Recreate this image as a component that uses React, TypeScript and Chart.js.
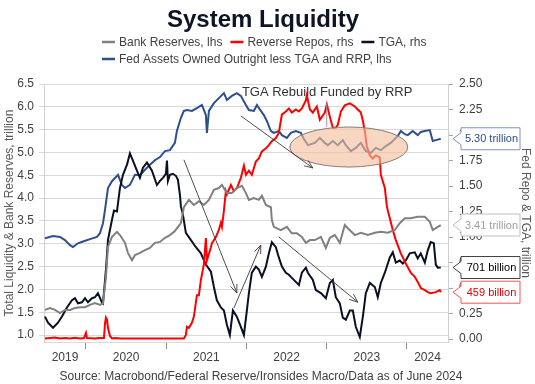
import React, { useEffect, useRef } from 'react';
import { Chart, registerables } from 'chart.js';

Chart.register(...registerables);

// ---------- Data (x = decimal year) ----------
const fedAssetsDates = [2019.489, 2019.589, 2019.676, 2019.738, 2019.801, 2019.838, 2019.900, 2019.963, 2020.050, 2020.137, 2020.174, 2020.212, 2020.237, 2020.274, 2020.324, 2020.361, 2020.399, 2020.448, 2020.486, 2020.548, 2020.610, 2020.672, 2020.735, 2020.797, 2020.859, 2020.922, 2020.984, 2021.046, 2021.108, 2021.133, 2021.183, 2021.220, 2021.258, 2021.320, 2021.382, 2021.445, 2021.494, 2021.507, 2021.532, 2021.594, 2021.656, 2021.719, 2021.756, 2021.818, 2021.880, 2021.930, 2021.993, 2022.030, 2022.092, 2022.130, 2022.179, 2022.217, 2022.254, 2022.304, 2022.341, 2022.403, 2022.441, 2022.503, 2022.553, 2022.615, 2022.677, 2022.715, 2022.765, 2022.852, 2022.914, 2022.976, 2023.014, 2023.076, 2023.138, 2023.200, 2023.238, 2023.300, 2023.362, 2023.425, 2023.487, 2023.549, 2023.611, 2023.674, 2023.736, 2023.798, 2023.861, 2023.885, 2023.923, 2023.973, 2024.010, 2024.072, 2024.134, 2024.172, 2024.222, 2024.284, 2024.321, 2024.359, 2024.421];
const fedAssetsValues = [3.12, 3.17, 3.15, 3.08, 2.97, 2.93, 3.01, 3.05, 3.10, 3.15, 3.23, 3.45, 3.74, 4.22, 4.37, 4.44, 4.51, 4.29, 4.22, 4.29, 4.51, 4.50, 4.62, 4.73, 4.83, 4.90, 5.03, 5.05, 5.21, 5.47, 5.76, 5.91, 5.93, 5.91, 5.97, 6.04, 5.82, 5.43, 5.91, 6.08, 6.19, 6.30, 6.15, 6.24, 6.30, 6.24, 6.04, 5.93, 5.91, 6.04, 5.91, 5.82, 5.69, 5.47, 5.43, 5.47, 5.38, 5.32, 5.43, 5.47, 5.43, 5.30, 5.16, 5.21, 5.32, 5.21, 5.16, 5.25, 5.16, 5.27, 5.16, 5.03, 5.10, 5.21, 5.03, 4.99, 5.10, 5.05, 5.14, 5.21, 5.32, 5.36, 5.47, 5.40, 5.38, 5.47, 5.38, 5.45, 5.47, 5.49, 5.25, 5.27, 5.30];

const reservesDates = [2019.489, 2019.552, 2019.614, 2019.676, 2019.738, 2019.801, 2019.863, 2019.925, 2019.988, 2020.050, 2020.112, 2020.174, 2020.212, 2020.249, 2020.274, 2020.324, 2020.386, 2020.423, 2020.486, 2020.523, 2020.573, 2020.610, 2020.672, 2020.735, 2020.797, 2020.859, 2020.922, 2020.984, 2021.046, 2021.108, 2021.183, 2021.220, 2021.283, 2021.345, 2021.407, 2021.469, 2021.532, 2021.594, 2021.656, 2021.694, 2021.756, 2021.818, 2021.880, 2021.943, 2021.993, 2022.030, 2022.092, 2022.154, 2022.192, 2022.242, 2022.304, 2022.316, 2022.341, 2022.428, 2022.503, 2022.565, 2022.628, 2022.690, 2022.740, 2022.790, 2022.852, 2022.927, 2022.989, 2023.039, 2023.101, 2023.163, 2023.225, 2023.263, 2023.350, 2023.425, 2023.512, 2023.599, 2023.674, 2023.761, 2023.848, 2023.910, 2023.973, 2024.047, 2024.134, 2024.222, 2024.284, 2024.321, 2024.384, 2024.421];
const reservesValues = [1.55, 1.59, 1.55, 1.48, 1.55, 1.55, 1.59, 1.61, 1.61, 1.66, 1.70, 1.66, 1.70, 2.27, 2.93, 3.15, 3.26, 3.19, 3.02, 2.80, 2.64, 2.75, 2.80, 2.86, 2.91, 3.02, 3.04, 3.13, 3.19, 3.28, 3.45, 3.80, 3.96, 3.85, 3.93, 3.85, 3.96, 4.18, 4.22, 4.29, 4.11, 4.11, 4.22, 4.27, 4.11, 3.96, 4.00, 3.96, 4.05, 3.85, 3.80, 3.52, 3.37, 3.30, 3.37, 3.23, 3.23, 3.15, 3.02, 3.08, 3.08, 3.15, 2.91, 3.13, 3.19, 3.02, 3.41, 3.34, 3.19, 3.24, 3.19, 3.24, 3.26, 3.24, 3.30, 3.45, 3.56, 3.56, 3.59, 3.59, 3.48, 3.30, 3.37, 3.41];

const tgaDates = [2019.489, 2019.527, 2019.589, 2019.651, 2019.701, 2019.763, 2019.826, 2019.863, 2019.900, 2019.950, 2019.988, 2020.025, 2020.075, 2020.112, 2020.149, 2020.199, 2020.212, 2020.249, 2020.274, 2020.324, 2020.349, 2020.386, 2020.423, 2020.461, 2020.511, 2020.548, 2020.585, 2020.635, 2020.672, 2020.710, 2020.760, 2020.822, 2020.884, 2020.922, 2020.959, 2020.996, 2021.009, 2021.021, 2021.046, 2021.083, 2021.121, 2021.146, 2021.171, 2021.183, 2021.208, 2021.245, 2021.308, 2021.370, 2021.432, 2021.494, 2021.557, 2021.594, 2021.631, 2021.681, 2021.719, 2021.756, 2021.793, 2021.831, 2021.880, 2021.930, 2021.968, 2022.005, 2022.030, 2022.067, 2022.117, 2022.154, 2022.192, 2022.242, 2022.279, 2022.316, 2022.366, 2022.403, 2022.441, 2022.491, 2022.528, 2022.565, 2022.615, 2022.653, 2022.690, 2022.740, 2022.765, 2022.827, 2022.864, 2022.927, 2022.989, 2023.039, 2023.076, 2023.113, 2023.163, 2023.200, 2023.238, 2023.288, 2023.325, 2023.362, 2023.412, 2023.450, 2023.487, 2023.537, 2023.599, 2023.636, 2023.674, 2023.724, 2023.786, 2023.823, 2023.861, 2023.910, 2023.948, 2023.985, 2024.035, 2024.097, 2024.134, 2024.172, 2024.222, 2024.259, 2024.296, 2024.334, 2024.359, 2024.384, 2024.421];
const tgaValues = [0.22, 0.16, 0.11, 0.16, 0.22, 0.31, 0.38, 0.40, 0.35, 0.36, 0.40, 0.36, 0.40, 0.41, 0.45, 0.36, 0.35, 0.68, 0.97, 1.17, 1.26, 1.25, 1.48, 1.61, 1.71, 1.82, 1.75, 1.65, 1.58, 1.68, 1.73, 1.65, 1.51, 1.55, 1.58, 1.62, 1.75, 1.55, 1.61, 1.62, 1.60, 1.56, 1.41, 1.30, 1.22, 1.04, 0.97, 0.90, 0.84, 0.73, 0.66, 0.51, 0.38, 0.31, 0.28, 0.14, 0.04, 0.28, 0.22, 0.12, 0.04, 0.28, 0.45, 0.65, 0.71, 0.68, 0.61, 0.71, 0.84, 0.95, 0.90, 0.80, 0.71, 0.65, 0.63, 0.60, 0.56, 0.53, 0.65, 0.70, 0.65, 0.58, 0.48, 0.45, 0.40, 0.55, 0.58, 0.41, 0.35, 0.21, 0.19, 0.28, 0.28, 0.12, 0.02, 0.22, 0.45, 0.55, 0.51, 0.41, 0.55, 0.65, 0.80, 0.85, 0.75, 0.77, 0.74, 0.77, 0.84, 0.85, 0.79, 0.84, 0.75, 0.87, 0.95, 0.94, 0.73, 0.70, 0.701];

const rrpDates = [2019.489, 2019.552, 2019.614, 2019.676, 2019.738, 2019.801, 2019.863, 2019.925, 2019.975, 2020.000, 2020.012, 2020.112, 2020.174, 2020.224, 2020.237, 2020.249, 2020.262, 2020.274, 2020.299, 2020.324, 2020.361, 2020.423, 2020.548, 2020.672, 2020.797, 2020.922, 2021.046, 2021.171, 2021.220, 2021.245, 2021.258, 2021.283, 2021.320, 2021.345, 2021.382, 2021.407, 2021.432, 2021.469, 2021.494, 2021.507, 2021.557, 2021.569, 2021.619, 2021.656, 2021.681, 2021.694, 2021.719, 2021.743, 2021.756, 2021.806, 2021.843, 2021.880, 2021.930, 2021.968, 2021.993, 2022.030, 2022.067, 2022.117, 2022.154, 2022.192, 2022.242, 2022.279, 2022.316, 2022.366, 2022.403, 2022.428, 2022.441, 2022.491, 2022.528, 2022.565, 2022.615, 2022.653, 2022.690, 2022.740, 2022.752, 2022.790, 2022.827, 2022.877, 2022.914, 2022.976, 2023.001, 2023.039, 2023.076, 2023.113, 2023.138, 2023.176, 2023.225, 2023.288, 2023.350, 2023.387, 2023.425, 2023.450, 2023.474, 2023.499, 2023.537, 2023.574, 2023.611, 2023.661, 2023.674, 2023.724, 2023.748, 2023.761, 2023.823, 2023.861, 2023.923, 2023.985, 2024.047, 2024.097, 2024.134, 2024.172, 2024.222, 2024.259, 2024.296, 2024.359, 2024.408, 2024.421];
const rrpValues = [0.005, 0.01, 0.015, 0.005, 0.01, 0.005, 0.012, 0.005, 0.01, 0.06, 0.01, 0.005, 0.01, 0.01, 0.15, 0.21, 0.19, 0.11, 0.03, 0.005, 0.01, 0.005, 0.005, 0.005, 0.005, 0.005, 0.005, 0.005, 0.005, 0.04, 0.12, 0.11, 0.16, 0.22, 0.43, 0.43, 0.58, 0.73, 0.99, 0.77, 0.90, 0.94, 1.00, 1.07, 1.14, 1.10, 1.26, 1.45, 1.42, 1.51, 1.45, 1.48, 1.58, 1.70, 1.61, 1.65, 1.61, 1.74, 1.77, 1.84, 1.87, 1.90, 1.94, 1.97, 2.02, 2.14, 2.20, 2.23, 2.26, 2.22, 2.25, 2.23, 2.26, 2.34, 2.39, 2.25, 2.22, 2.28, 2.15, 2.22, 2.30, 2.18, 2.07, 2.07, 2.10, 2.23, 2.29, 2.31, 2.28, 2.25, 2.22, 2.14, 2.04, 1.89, 1.80, 1.77, 1.80, 1.78, 1.61, 1.48, 1.31, 1.26, 1.07, 0.97, 0.84, 0.74, 0.65, 0.61, 0.56, 0.50, 0.48, 0.46, 0.45, 0.46, 0.48, 0.459];

// ---------- Axes ----------
const xMin = 2019.477;
const xMax = 2024.511;
const yearLabels = [2019, 2020, 2021, 2022, 2023, 2024];
const leftTicks = [1.0, 1.5, 2.0, 2.5, 3.0, 3.5, 4.0, 4.5, 5.0, 5.5, 6.0, 6.5];
const leftMin = 0.847;
const leftMax = 6.5;
const rightTicks = [0, 0.25, 0.5, 0.75, 1.0, 1.25, 1.5, 1.75, 2.0, 2.25, 2.5];
const rightMin = -0.029;
const rightMax = 2.5;

// ---------- Annotations (data coordinates, left axis) ----------
const annotationText = 'TGA Rebuild Funded by RRP';
const annotationPos = { x: 2023.005, y: 6.325 };
const leaderLine = { x: 2023.0, y1: 6.08, y2: 5.56 };
const ellipseBounds = { x1: 2022.54, x2: 2024.01, y1: 5.558, y2: 4.681 };
const arrows = [
  { x1: 2021.930, y1: 5.80, x2: 2022.827, y2: 4.66 },
  { x1: 2021.220, y1: 4.84, x2: 2021.880, y2: 1.92 },
  { x1: 2021.843, y1: 1.59, x2: 2022.179, y2: 2.97 },
  { x1: 2022.403, y1: 3.15, x2: 2023.387, y2: 1.72 },
];

const COLORS = {
  reserves: '#808080',
  rrp: '#ff0000',
  tga: '#0a0f24',
  fed: '#2e4f8e',
};

const FONT = "'Liberation Sans', Arial, sans-serif";

const pts = (d: number[], v: number[]) => d.map((x, i) => ({ x, y: v[i] }));

const series = [
  { label: 'Bank Reserves, lhs', dates: reservesDates, values: reservesValues, color: COLORS.reserves, axis: 'y', unit: 'trillion', box: { border: '#bfbfbf', text: '#a0a0a0' } },
  { label: 'Reverse Repos, rhs', dates: rrpDates, values: rrpValues, color: COLORS.rrp, axis: 'y2', unit: 'billion', box: { border: '#ff5050', text: '#e00000' } },
  { label: 'TGA, rhs', dates: tgaDates, values: tgaValues, color: COLORS.tga, axis: 'y2', unit: 'billion', box: { border: '#404040', text: '#000000' } },
  { label: 'Fed Assets Owned Outright less TGA and RRP, lhs', dates: fedAssetsDates, values: fedAssetsValues, color: COLORS.fed, axis: 'y', unit: 'trillion', box: { border: '#7f93bf', text: '#2e4f8e' } },
];

function drawArrow(ctx: CanvasRenderingContext2D, x1: number, y1: number, x2: number, y2: number) {
  ctx.beginPath();
  ctx.moveTo(x1, y1);
  ctx.lineTo(x2, y2);
  ctx.stroke();
  const ang = Math.atan2(y2 - y1, x2 - x1);
  const len = 9;
  const spread = 0.38;
  ctx.beginPath();
  ctx.moveTo(x2 - len * Math.cos(ang - spread), y2 - len * Math.sin(ang - spread));
  ctx.lineTo(x2, y2);
  ctx.lineTo(x2 - len * Math.cos(ang + spread), y2 - len * Math.sin(ang + spread));
  ctx.stroke();
}

const overlayPlugin = {
  id: 'overlay',
  afterDatasetsDraw(chart: any) {
    const { ctx, scales } = chart;
    const x = scales.x;
    const y = scales.y;
    ctx.save();
    // ellipse
    const ex1 = x.getPixelForValue(ellipseBounds.x1);
    const ex2 = x.getPixelForValue(ellipseBounds.x2);
    const ey1 = y.getPixelForValue(ellipseBounds.y1);
    const ey2 = y.getPixelForValue(ellipseBounds.y2);
    ctx.beginPath();
    ctx.ellipse((ex1 + ex2) / 2, (ey1 + ey2) / 2, Math.abs(ex2 - ex1) / 2, Math.abs(ey2 - ey1) / 2, 0, 0, Math.PI * 2);
    ctx.fillStyle = 'rgba(242, 190, 155, 0.62)';
    ctx.fill();
    ctx.strokeStyle = '#8a7a70';
    ctx.lineWidth = 1;
    ctx.stroke();
    // leader line
    ctx.strokeStyle = '#9a9a9a';
    ctx.beginPath();
    const lx = x.getPixelForValue(leaderLine.x);
    ctx.moveTo(lx, y.getPixelForValue(leaderLine.y1));
    ctx.lineTo(lx, y.getPixelForValue(leaderLine.y2));
    ctx.stroke();
    // arrows
    ctx.strokeStyle = '#3a3a3a';
    ctx.lineWidth = 0.9;
    arrows.forEach(a => {
      drawArrow(ctx, x.getPixelForValue(a.x1), y.getPixelForValue(a.y1), x.getPixelForValue(a.x2), y.getPixelForValue(a.y2));
    });
    // text
    ctx.fillStyle = '#333333';
    ctx.font = `13px ${FONT}`;
    ctx.textAlign = 'center';
    ctx.textBaseline = 'middle';
    ctx.fillText(annotationText, x.getPixelForValue(annotationPos.x), y.getPixelForValue(annotationPos.y));
    ctx.restore();
  },
  afterDraw(chart: any) {
    const { ctx, chartArea, scales } = chart;
    ctx.save();
    // Title
    ctx.fillStyle = '#0d1426';
    ctx.font = `bold 24px ${FONT}`;
    ctx.textAlign = 'center';
    ctx.textBaseline = 'alphabetic';
    ctx.fillText('System Liquidity', 263, 27);

    // Legend
    ctx.font = `12px ${FONT}`;
    ctx.textBaseline = 'middle';
    ctx.textAlign = 'left';
    const rows = [[0, 1, 2], [3]];
    const rowY = [42, 59];
    rows.forEach((row, ri) => {
      let lx = 102;
      row.forEach(i => {
        const s = series[i];
        ctx.strokeStyle = s.color;
        ctx.lineWidth = 2.5;
        ctx.beginPath();
        ctx.moveTo(lx, rowY[ri]);
        ctx.lineTo(lx + 13, rowY[ri]);
        ctx.stroke();
        ctx.fillStyle = '#404040';
        ctx.fillText(s.label, lx + 17, rowY[ri] + 0.5);
        lx += 17 + ctx.measureText(s.label).width + 8;
      });
    });

    // End-value callouts
    const right = chartArea.right;
    const tipX = right + 5;
    const boxL = right + 13;
    const boxR = right + 72;
    const h = 22;
    ctx.font = `11px ${FONT}`;
    ctx.textAlign = 'center';
    series.forEach(s => {
      const last = s.values[s.values.length - 1];
      const py = scales[s.axis].getPixelForValue(last);
      const text = s.unit === 'trillion' ? `${last.toFixed(2)} trillion` : `${Math.round(last * 1000)} billion`;
      ctx.beginPath();
      ctx.moveTo(tipX, py);
      ctx.lineTo(boxL, py - 6);
      ctx.lineTo(boxL, py - h / 2);
      ctx.lineTo(boxR, py - h / 2);
      ctx.lineTo(boxR, py + h / 2);
      ctx.lineTo(boxL, py + h / 2);
      ctx.lineTo(boxL, py + 6);
      ctx.closePath();
      ctx.fillStyle = '#ffffff';
      ctx.fill();
      ctx.strokeStyle = s.box.border;
      ctx.lineWidth = 1;
      ctx.stroke();
      ctx.fillStyle = s.box.text;
      ctx.fillText(text, (boxL + boxR) / 2 + 1, py + 0.5);
    });

    // Source
    ctx.fillStyle = '#404040';
    ctx.font = `12px ${FONT}`;
    ctx.textAlign = 'center';
    ctx.textBaseline = 'middle';
    ctx.fillText('Source: Macrobond/Federal Reserve/Ironsides Macro/Data as of June 2024', 261, 377);
    ctx.restore();
  },
};

const xTickValues = (() => {
  const vals: number[] = [];
  yearLabels.forEach(yr => {
    const a = Math.max(yr, xMin);
    const b = Math.min(yr + 1, xMax);
    vals.push((a + b) / 2);
    if (yr + 1 < xMax) vals.push(yr + 1);
  });
  return vals;
})();

export default function App() {
  const ref = useRef<HTMLCanvasElement>(null);
  useEffect(() => {
    document.body.style.margin = '0';
    const canvas = ref.current!;
    const chart = new Chart(canvas, {
      type: 'line',
      data: {
        datasets: series.map(s => ({
          label: s.label,
          data: pts(s.dates, s.values),
          borderColor: s.color,
          backgroundColor: s.color,
          borderWidth: 2,
          pointRadius: 0,
          tension: 0,
          yAxisID: s.axis,
        })),
      },
      options: {
        responsive: false,
        animation: false,
        devicePixelRatio: 1,
        parsing: false,
        normalized: true,
        layout: { padding: { top: 84, left: 0, right: 0, bottom: 0 } },
        plugins: {
          legend: { display: false },
          title: { display: false },
          tooltip: { enabled: false },
        },
        scales: {
          x: {
            type: 'linear',
            min: xMin,
            max: xMax,
            afterBuildTicks: (scale: any) => {
              scale.ticks = xTickValues.map(v => ({ value: v }));
            },
            afterFit: (scale: any) => { scale.height = 42; },
            ticks: {
              autoSkip: false,
              maxRotation: 0,
              padding: 1,
              color: '#404040',
              font: { size: 12, family: FONT },
              callback: (v: any) => (Number.isInteger(v) ? '' : String(Math.floor(v))),
            },
            grid: {
              drawOnChartArea: false,
              drawTicks: true,
              tickLength: 7,
              color: (c: any) => (c.tick && Number.isInteger(c.tick.value) ? '#8c8c8c' : 'rgba(0,0,0,0)'),
            },
            border: { display: true, color: '#d9d9d9' },
          },
          y: {
            type: 'linear',
            position: 'left',
            min: leftMin,
            max: leftMax,
            afterBuildTicks: (scale: any) => {
              scale.ticks = leftTicks.map(v => ({ value: v }));
            },
            afterFit: (scale: any) => { scale.width = 44; },
            ticks: {
              padding: 5,
              color: '#404040',
              font: { size: 12, family: FONT },
              callback: (v: any) => Number(v).toFixed(1),
            },
            grid: { color: '#d9d9d9', tickLength: 5, drawTicks: true },
            border: { display: true, color: '#d0d0d0' },
            title: {
              display: true,
              text: 'Total Liquidity & Bank Reserves, trillion',
              color: '#595959',
              font: { size: 12, family: FONT },
              padding: { top: 2, bottom: 0 },
            },
          },
          y2: {
            type: 'linear',
            position: 'right',
            min: rightMin,
            max: rightMax,
            afterBuildTicks: (scale: any) => {
              scale.ticks = rightTicks.map(v => ({ value: v }));
            },
            afterFit: (scale: any) => { scale.width = 87; },
            ticks: {
              padding: 6,
              color: '#404040',
              font: { size: 12, family: FONT },
              callback: (v: any) => Number(v).toFixed(2),
            },
            grid: { drawOnChartArea: false, tickLength: 5, color: '#a6a6a6' },
            border: { display: true, color: '#d0d0d0' },
            title: {
              display: true,
              text: 'Fed Repo & TGA, trillion',
              color: '#595959',
              font: { size: 12, family: FONT },
              padding: { top: 2, bottom: 0 },
            },
          },
        },
      },
      plugins: [overlayPlugin],
    } as any);
    return () => chart.destroy();
  }, []);
  return (
    <div style={{ width: 535, height: 384 }}>
      <canvas ref={ref} width={535} height={384} style={{ display: 'block' }} />
    </div>
  );
}
